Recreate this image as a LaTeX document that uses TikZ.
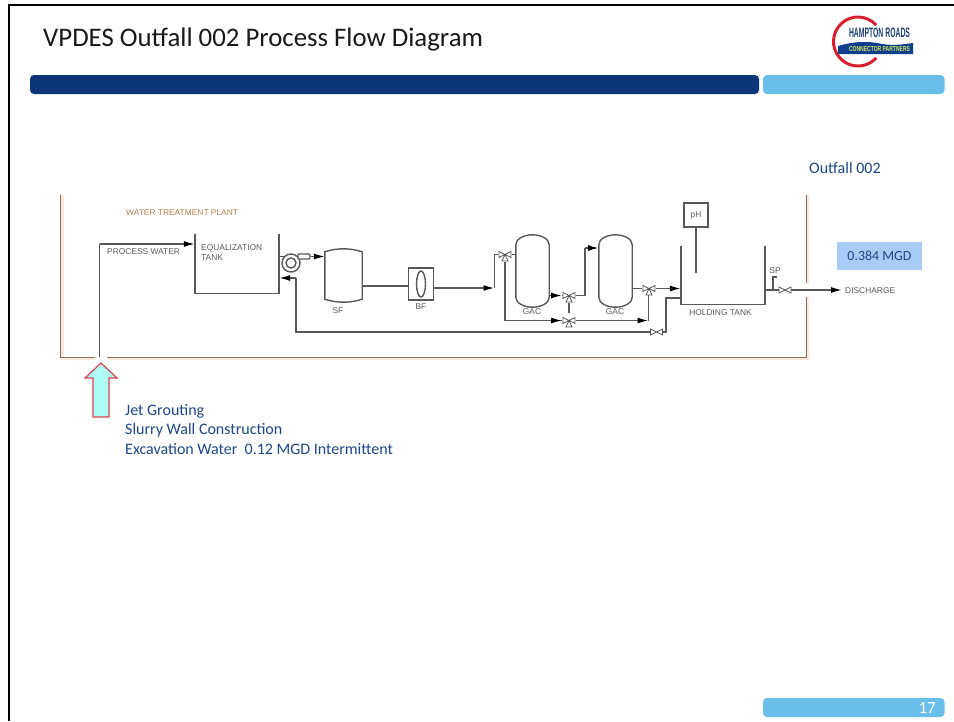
\documentclass[tikz,border=0pt]{standalone}
\usepackage{fontspec}
\setmainfont{Carlito}
\newfontfamily\diagfont{Liberation Sans}
\usetikzlibrary{arrows.meta,calc,backgrounds,shapes.geometric}
\definecolor{navybar}{HTML}{0B3778}
\definecolor{skybar}{HTML}{69BFE9}
\definecolor{slidetext}{HTML}{1F4788}
\definecolor{pipegray}{HTML}{585858}
\definecolor{labelgray}{HTML}{5A5A5A}
\definecolor{plantedge}{HTML}{8C6E60}
\definecolor{plantglow}{HTML}{FAE8DC}
\definecolor{callout}{HTML}{A9CCF6}
\definecolor{arrowfill}{HTML}{AEFDF6}
\definecolor{arrowline}{HTML}{D9434F}
\definecolor{logored}{HTML}{D8202E}
\definecolor{logoblue}{HTML}{0F3F8C}
\definecolor{logonavy}{HTML}{1F3F73}
\definecolor{logogreen}{HTML}{D8E85A}
\tikzset{
  pipe/.style={draw=pipegray,line width=1.4pt},
  tankwall/.style={draw=pipegray,line width=1.5pt},
  flow/.style={pipe,-{Latex[length=11pt,width=6pt,color=black]}},
  lbl/.style={inner sep=0pt,font=\diagfont\fontsize{8.4}{10}\selectfont,text=labelgray},
  slidetxt/.style={inner sep=0pt,anchor=base west,text=slidetext,font=\fontsize{16}{19}\selectfont},
  spot/.style={inner sep=0pt,minimum size=0pt,draw=none},
  valve/.style={spot,minimum width=13pt,minimum height=7pt,path picture={
    \draw[draw=pipegray,line width=.8pt,fill=white] (path picture bounding box.center)
      ++(-6,-3) -- ++(12,6) -- ++(0,-6) -- ++(-12,6) -- cycle;}},
  valvetee/.style={spot,minimum width=13pt,minimum height=15pt,path picture={
    \draw[draw=pipegray,line width=.8pt,fill=white] (path picture bounding box.center)
      ++(-6,-3) -- ++(12,6) -- ++(0,-6) -- ++(-12,6) -- cycle;
    \draw[draw=pipegray,line width=.8pt,fill=white] (path picture bounding box.center)
      -- ++(-3,6.5) -- ++(6,0) -- cycle;}},
}
\newcommand{\vesselshape}[2]{%
  \draw[pipe,fill=white]
   ([yshift=-#2pt]#1.north west) .. controls ([yshift=-#2pt*0.45]#1.north west) and ([xshift=7.4pt]#1.north west) .. (#1.north)
   .. controls ([xshift=-7.4pt]#1.north east) and ([yshift=-#2pt*0.45]#1.north east) .. ([yshift=-#2pt]#1.north east)
   -- ([yshift=#2pt]#1.south east) .. controls ([yshift=#2pt*0.45]#1.south east) and ([xshift=-7.4pt]#1.south east) .. (#1.south)
   .. controls ([xshift=7.4pt]#1.south west) and ([yshift=#2pt*0.45]#1.south west) .. ([yshift=#2pt]#1.south west) -- cycle;}
\newcommand{\flatvessel}[1]{%
  \draw[pipe,fill=white]
   ([yshift=-3pt]#1.north west) .. controls ([xshift=6pt,yshift=-1pt]#1.north west) and ([xshift=-6pt]#1.north) .. (#1.north)
   .. controls ([xshift=6pt]#1.north) and ([xshift=-6pt,yshift=-1pt]#1.north east) .. ([yshift=-3pt]#1.north east)
   -- ([yshift=3pt]#1.south east) .. controls ([xshift=-6pt,yshift=1pt]#1.south east) and ([xshift=6pt]#1.south) .. (#1.south)
   .. controls ([xshift=-6pt]#1.south) and ([xshift=6pt,yshift=1pt]#1.south west) .. ([yshift=3pt]#1.south west) -- cycle;}
\begin{document}
\begin{tikzpicture}[x=1pt,y=-1pt]
\useasboundingbox (0,0) rectangle (954,721);
% slide frame
\draw[black,line width=2pt] (8.5,721) -- (8.5,5) -- (954,5);
\node[inner sep=0pt,anchor=west,font=\fontsize{26.8}{32}\selectfont,text=black!90] (title) at (43,39) {VPDES Outfall 002 Process Flow Diagram};
\fill[navybar,rounded corners=4pt] (30,75) rectangle (759,94);
\fill[skybar,rounded corners=4pt] (763,75) rectangle (944.5,94);
\fill[skybar,rounded corners=4pt] (763,698) rectangle (944.5,717);
\node[inner sep=0pt,anchor=east,text=white,font=\fontsize{17}{20}\selectfont] (page) at (936,708) {17};
% logo
\draw[logored,line width=3pt] (876.2,25.1) arc[start angle=-42,end angle=-318,radius=24.5];
\fill[logoblue] (838,46) .. controls (855,41) and (870,41) .. (882,44) .. controls (895,46) and (905,44) .. (913,43) -- (913,54) -- (838,54) -- cycle;
\node[inner sep=0pt,text=logonavy] (logotop) at (879.5,33) {\resizebox{61pt}{9.5pt}{\diagfont\bfseries HAMPTON ROADS}};
\node[inner sep=0pt,text=logogreen] (logobot) at (879.5,49.5) {\resizebox{61pt}{5pt}{\diagfont\bfseries CONNECTOR PARTNERS}};
% plant
\coordinate (plantNW) at (60,195);
\coordinate (plantSW) at (60,357);
\coordinate (plantSE) at (806,357);
\coordinate (plantNE) at (806,195);
\coordinate (gapL) at (95,357);
\coordinate (gapR) at (107,357);
\coordinate (gapT) at (806,283);
\coordinate (gapB) at (806,297);
\draw[plantglow,line width=2.5pt] (62.5,195) -- (62.5,359) -- (94,359) (108,359) -- (808,359) -- (808,297) (808,283) -- (808,195);
\draw[plantedge,line width=1pt] (plantNW) -- (plantSW) -- (gapL) (gapR) -- (plantSE) -- (gapB) (gapT) -- (plantNE);
\node[lbl,anchor=west,text=brown!75!gray] (plantlbl) at (126,213) {WATER TREATMENT PLANT};
% components
\node[spot,minimum width=84pt,minimum height=59pt] (eq) at (237,264) {};
\node[lbl,anchor=north west,align=left] (eqlbl) at (201,244) {EQUALIZATION\\TANK};
\node[lbl,anchor=west] (pwlbl) at (107,252) {PROCESS WATER};
\node[circle,pipe,fill=white,minimum size=18pt,inner sep=0pt] (pump) at (291,263) {};
\node[circle,pipe,fill=white,minimum size=10pt,inner sep=0pt] (pumpin) at (291,263) {};
\node[rectangle,pipe,fill=white,rounded corners=1pt,minimum width=12pt,minimum height=5pt,inner sep=0pt] (nub) at (304,256.5) {};
\node[spot,minimum width=37pt,minimum height=53pt] (sf) at (343.5,275.5) {};
\node[lbl] (sflbl) at (338,311) {SF};
\node[rectangle,pipe,fill=white,minimum width=24.5pt,minimum height=32pt,inner sep=0pt] (bf) at (421,284) {};
\node[ellipse,pipe,minimum width=9pt,minimum height=26pt,inner sep=0pt] (bfin) at (421,284) {};
\node[lbl] (bflbl) at (421,307) {BF};
\node[spot,minimum width=33pt,minimum height=72pt] (gaca) at (532.5,271) {};
\node[spot,minimum width=33pt,minimum height=72pt] (gacb) at (615.5,271) {};
\node[lbl] (gacalbl) at (532,312) {GAC};
\node[lbl] (gacblbl) at (615,312) {GAC};
\node[spot,minimum width=84pt,minimum height=58pt] (hold) at (723,275.5) {};
\node[lbl] (holdlbl) at (720.5,313) {HOLDING TANK};
\node[rectangle,pipe,fill=white,minimum width=24pt,minimum height=24pt,inner sep=0pt,lbl] (ph) at (696,215) {pH};
\node[lbl] (splbl) at (775,271) {SP};
\node[lbl,anchor=west] (dislbl) at (845,290.5) {DISCHARGE};
\node[valvetee] (v1) at (505,254.5) {};
\node[valvetee] (v2) at (569,295.5) {};
\node[valvetee] (v3) at (569,320.5) {};
\node[valvetee] (v4) at (649,288.5) {};
\node[valve] (v5) at (656.5,332) {};
\node[valve] (v6) at (785,290) {};
% named junctions
\coordinate (pwBottom) at (99.5,357);
\coordinate (pwCorner) at (99.5,244);
\coordinate (eqIn) at (eq.west |- pwCorner);
\coordinate (sfIn) at (sf.west |- nub);
\coordinate (eqRet) at (eq.east |- 0,278);
\coordinate (retA) at (296,278);
\coordinate (retB) at (296,332);
\coordinate (retC) at (666,332);
\coordinate (retD) at (666,298);
\coordinate (holdRet) at (hold.west |- retD);
\coordinate (bfOutEnd) at (494.5,288);
\coordinate (bfUp) at (494.5,254.5);
\coordinate (byp) at (505,320.5);
\coordinate (bypArrow1) at (562,320.5);
\coordinate (bypArrow2) at (648.5,320.5);
\coordinate (gacaOut) at (gaca.east |- v2);
\coordinate (arrowv2) at (562,295.5);
\coordinate (rise1) at (585,295.5);
\coordinate (rise2) at (585,248);
\coordinate (gacbIn) at (gacb.west |- rise2);
\coordinate (gacbOut) at (gacb.east |- v4);
\coordinate (holdIn) at (hold.west |- v4);
\coordinate (holdOut) at (hold.east |- v6);
\coordinate (spTap) at (773,290);
\coordinate (spTop) at (773,277);
\coordinate (spEnd) at (776.5,277);
\coordinate (disEnd) at (842,290);
\coordinate (probe) at (696,273);
\begin{scope}[on background layer]
\draw[pipe] (pwBottom) -- (pwCorner);
\draw[flow] (pwCorner) -- (eqIn);
\draw[tankwall] (eq.north west) -- (eq.south west) -- (eq.south east) -- (eq.north east);
\draw[pipe] (eq.east |- nub) -- (nub);
\draw[flow] (nub) -- (sfIn);
\draw[pipe] (sf.east |- 0,286) -- (bf.west |- 0,286);
\draw[flow] (bf.east |- bfOutEnd) -- (bfOutEnd);
\draw[pipe] (bfOutEnd) -- (bfUp) -- (v1);
\draw[pipe] (v1) -- (gaca.west |- v1);
\draw[pipe] (v1) -- (byp) -- (v3);
\draw[flow] (byp) -- (bypArrow1);
\draw[flow] (gacaOut) -- (arrowv2);
\draw[pipe] (arrowv2) -- (v2) -- (rise1) -- (rise2);
\draw[flow] (rise2) -- (gacbIn);
\draw[pipe] (v2) -- (v3);
\draw[flow] (v3) -- (bypArrow2);
\draw[pipe] (bypArrow2) -- (bypArrow2 |- v4);
\draw[pipe] (gacbOut) -- (v4);
\draw[flow] (v4) -- (holdIn);
\draw[flow] (retA) -- (eqRet);
\draw[pipe] (retA) -- (retB) -- (v5) -- (retC) -- (retD) -- (holdRet);
\draw[tankwall] (hold.north west) -- (hold.south west) -- (hold.south east) -- (hold.north east);
\draw[tankwall] (ph.south) -- (probe);
\draw[pipe] (spTap) -- (spTop) -- (spEnd);
\draw[flow] (holdOut) -- (disEnd);
\end{scope}
\flatvessel{sf}
\vesselshape{gaca}{10}
\vesselshape{gacb}{10}
% callouts
\node[fill=callout,minimum width=85pt,minimum height=28pt,inner sep=0pt,text=slidetext,font=\fontsize{13.9}{16}\selectfont] (mgd) at (879.5,256) {0.384 MGD};
\node[slidetxt,anchor=west] (outfall) at (809,168) {Outfall 002};
\node[slidetxt] (t1) at (125,415) {Jet Grouting};
\node[slidetxt] (t2) at (125,434) {Slurry Wall Construction};
\node[slidetxt] (t3) at (125,454) {Excavation Water\ \ 0.12 MGD Intermittent};
\draw[draw=arrowline,fill=arrowfill,line width=1.2pt,line join=miter] (101,363) -- (117,378) -- (109,378) -- (109,417) -- (93,417) -- (93,378) -- (85,378) -- cycle;
\end{tikzpicture}
\end{document}
